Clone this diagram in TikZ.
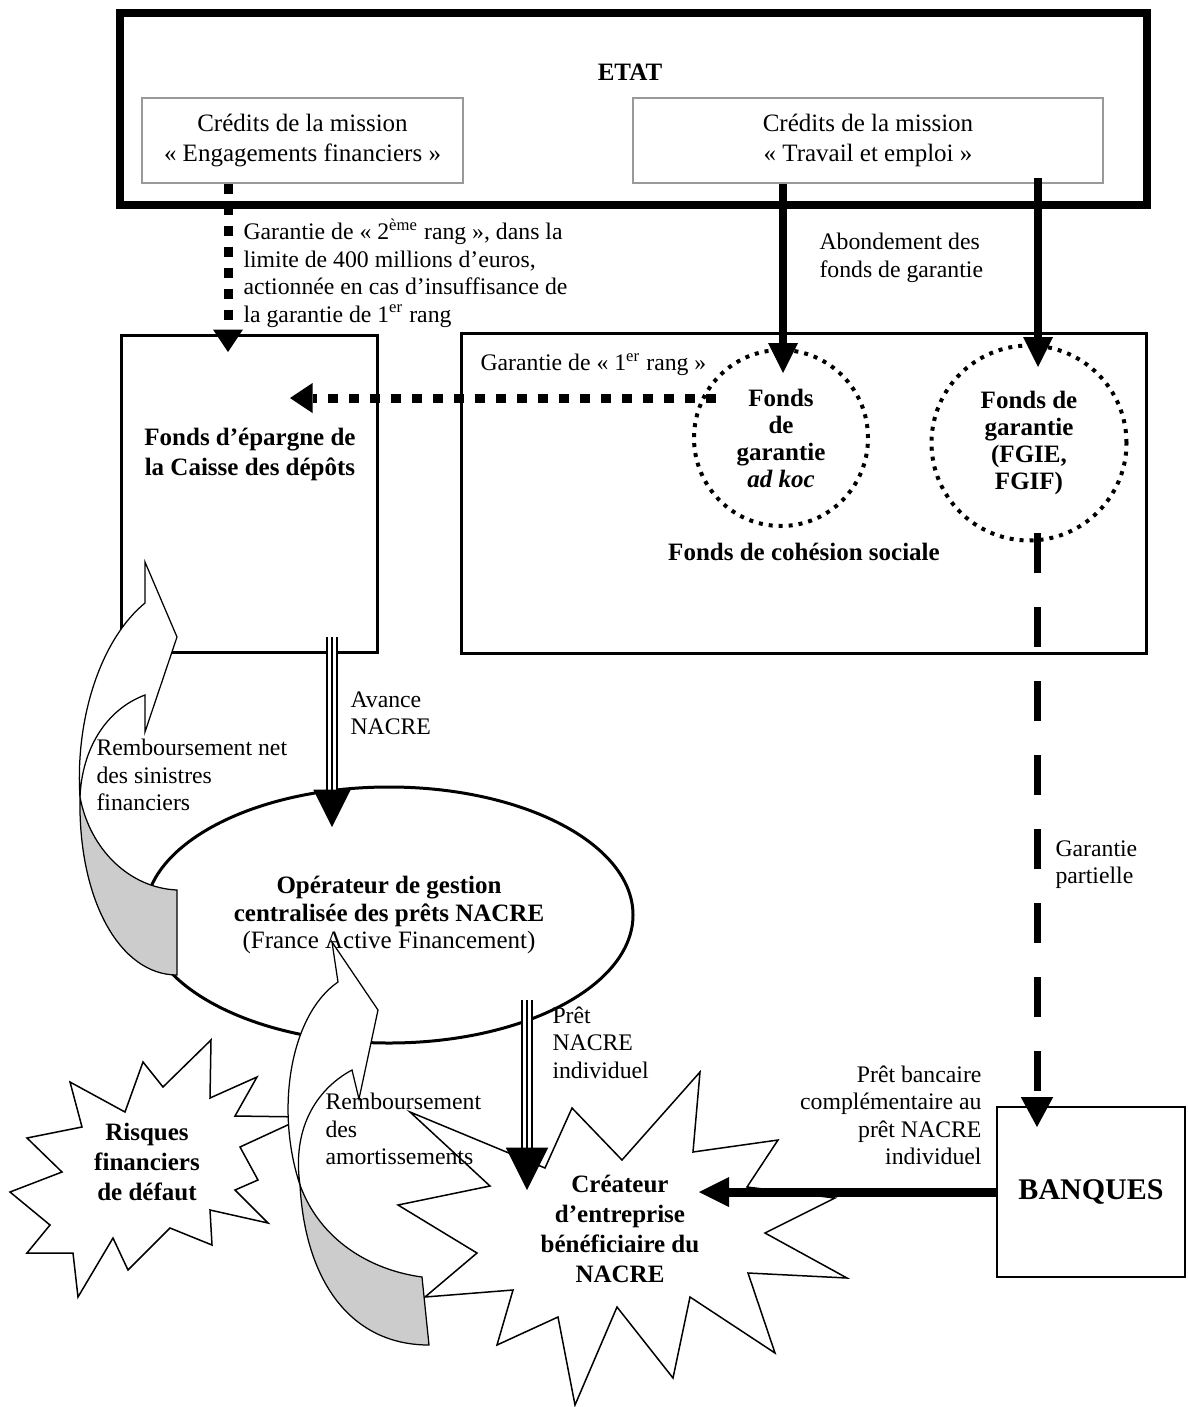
\documentclass[tikz,border=0pt]{standalone}
\usepackage{fontspec}
\setmainfont{Liberation Serif}
\usetikzlibrary{arrows.meta,shapes.geometric}

\begin{document}
\begin{tikzpicture}[x=0.4pt, y=-0.4pt, font=\fontsize{10}{11}\selectfont,
  lab/.style={inner sep=0pt, align=left, anchor=north west, font=\fontsize{9.5}{11}\selectfont},
  cadre/.style={draw=gray!80, line width=0.5pt, inner sep=0pt, align=center, font=\fontsize{10}{12}\selectfont},
  fonds/.style={draw, line width=1.2pt, inner sep=0pt},
  bulle/.style={ellipse, draw, line width=1.6pt, dash pattern=on 1.6pt off 2.4pt, inner sep=0pt,
                align=center, font=\fontsize{10}{10.8}\selectfont\bfseries},
  plein/.style={line width=3.2pt, -{Triangle[width=12pt,length=12pt,line width=0pt]}},
  pointille/.style={line width=3.6pt, dash pattern=on 4pt off 4.4pt,
                    -{Triangle[width=12pt,length=9pt,line width=0pt]}},
  tirets/.style={line width=2.8pt, dash pattern=on 16pt off 13.6pt,
                 -{Triangle[width=13pt,length=12pt,line width=0pt]}},
  triple/.style={double, double distance=3.4pt, line width=0.6pt},
  etoile/.style={draw, fill=white, line width=0.6pt},
  ruban/.style={draw, fill=white, line width=0.5pt},
  revers/.style={ruban, fill=gray!40}]
\useasboundingbox (0,0) rectangle (1187,1407);

% Etat
\node[fonds, line width=3.2pt, minimum width=410.8pt, minimum height=76.8pt] (etat) at (633.5,109) {};
\node[font=\bfseries] (etatlab) at (630,72) {ETAT};
\node[cadre, minimum width=128.4pt, minimum height=34pt] (credEF) at (302.5,140.5)
  {Crédits de la mission\\« Engagements financiers »};
\node[cadre, minimum width=188pt, minimum height=34pt] (credTE) at (868,140.5)
  {Crédits de la mission\\« Travail et emploi »};

% fonds
\node[fonds, minimum width=102pt, minimum height=126.8pt] (epargne) at (249.5,493.5) {};
\node[font=\bfseries, align=center] (epargnelab) at (250,454) {Fonds d’épargne de\\la Caisse des dépôts};
\node[fonds, minimum width=273.6pt, minimum height=128pt] (cohesion) at (804,493) {};
\node[font=\bfseries] (cohesionlab) at (804,552) {Fonds de cohésion sociale};
\node[bulle, minimum width=69.6pt, minimum height=70.4pt] (adhoc) at (781,438)
  {Fonds\\de\\garantie\\\textit{ad koc}};
\node[bulle, minimum width=78pt, minimum height=78pt] (fgie) at (1029,443)
  {Fonds de\\garantie\\(FGIE,\\FGIF)};

% liens du haut
\coordinate (pA) at (228,352);
\coordinate (pB) at (783,373);
\coordinate (sC) at (1038,178);
\coordinate (pC) at (1038,367);
\coordinate (sD) at (716,398);
\coordinate (pD) at (290,398);
\coordinate (sE) at (1037,533);
\coordinate (pE) at (1037,1127);
\draw[pointille] (credEF.south -| pA) -- (pA);
\draw[plein] (credTE.south -| pB) -- (pB);
\draw[plein] (sC) -- (pC);
\draw[pointille] (sD) -- (pD);
\draw[tirets] (sE) -- (pE);

% operateur
\node[draw, ellipse, line width=1.2pt, minimum width=195.2pt, minimum height=102.4pt,
      align=center, inner sep=0pt] (operateur) at (389,915)
  {\textbf{Opérateur de gestion}\\\textbf{centralisée des prêts NACRE}\\(France Active Financement)};

\coordinate (sAv) at (332,637);
\coordinate (pAv) at (332,827);
\draw[triple, shorten >=12pt] (sAv) -- (pAv);
\draw[line width=0.6pt, -{Triangle[width=15pt,length=15pt,line width=0pt]}] (sAv) -- (pAv);

% remboursement net des sinistres
\filldraw[ruban] (145,603) .. controls (100,640) and (75,720) .. (80,797)
  .. controls (82,750) and (105,710) .. (145,695) -- (145,732) -- (177,637) -- (145,562) -- cycle;
\filldraw[revers] (80,797) .. controls (78,900) and (120,975) .. (177,975) -- (177,890)
  .. controls (130,888) and (90,850) .. (80,797) -- cycle;

% etoiles
\filldraw[etoile] (700,1072) -- (693,1152) -- (778,1140) -- (747,1187) -- (835,1198) -- (765,1233)
  -- (847,1278) -- (748,1273) -- (775,1353) -- (690,1297) -- (673,1378) -- (617,1307) -- (575,1405)
  -- (558,1317) -- (497,1345) -- (513,1290) -- (425,1297) -- (477,1253) -- (398,1205) -- (490,1186)
  -- (410,1112) -- (545,1168) -- (572,1108) -- (622,1160) -- cycle;
\filldraw[etoile] (211,1040) -- (210,1098) -- (257,1077) -- (235,1116) -- (305,1117) -- (240,1147)
  -- (258,1180) -- (235,1190) -- (268,1223) -- (210,1210) -- (212,1245) -- (170,1228) -- (128,1270)
  -- (113,1238) -- (78,1297) -- (73,1253) -- (27,1253) -- (50,1225) -- (10,1192) -- (62,1172)
  -- (27,1138) -- (82,1127) -- (70,1082) -- (125,1112) -- (143,1062) -- (163,1087) -- cycle;

% remboursement des amortissements
\filldraw[ruban] (338,982) .. controls (290,1015) and (275,1110) .. (300,1185)
  .. controls (292,1130) and (315,1090) .. (352,1070) -- (359,1099) -- (378,1010) -- (332,942) -- cycle;
\filldraw[revers] (300,1185) .. controls (305,1280) and (350,1345) .. (429,1345) -- (422,1277)
  .. controls (370,1270) and (320,1240) .. (300,1185) -- cycle;

\coordinate (sPr) at (527,1000);
\coordinate (pPr) at (527,1190);
\draw[triple, shorten >=13pt] (sPr) -- (pPr);
\draw[line width=0.6pt, -{Triangle[width=17pt,length=17pt,line width=0pt]}] (sPr) -- (pPr);

% banques
\node[draw, line width=0.8pt, minimum width=75.2pt, minimum height=68pt,
      font=\fontsize{12}{14}\selectfont\bfseries] (banques) at (1091,1192) {BANQUES};
\coordinate (pF) at (699,1192);
\draw[line width=3.6pt, -{Triangle[width=12pt,length=12pt,line width=0pt]}] (banques.west) -- (pF);

% textes
\node[font=\bfseries, align=center] (risques) at (147,1162) {Risques\\financiers\\de défaut};
\node[font=\bfseries, align=center] (createur) at (620,1229) {Créateur\\d’entreprise\\bénéficiaire du\\NACRE};
\node[lab] (garB) at (243,218) {Garantie de « 2\textsuperscript{ème} rang », dans la\\limite de 400 millions d’euros,\\actionnée en cas d’insuffisance de\\la garantie de 1\textsuperscript{er} rang};
\node[lab] (abond) at (819,233) {Abondement des\\fonds de garantie};
\node[lab] (gar1) at (480,353) {Garantie de « 1\textsuperscript{er} rang »};
\node[lab] (avance) at (350,691) {Avance\\NACRE};
\node[lab] (rembnet) at (96,739) {Remboursement net\\des sinistres\\financiers};
\node[lab] (pretind) at (552,1006) {Prêt\\NACRE\\individuel};
\node[lab] (rembam) at (325,1093) {Remboursement\\des\\amortissements};
\node[lab] (garpart) at (1055,840) {Garantie\\partielle};
\node[lab, anchor=north east, align=right] (pretbanc) at (982,1065)
  {Prêt bancaire\\complémentaire au\\prêt NACRE\\individuel};
\end{tikzpicture}
\end{document}
